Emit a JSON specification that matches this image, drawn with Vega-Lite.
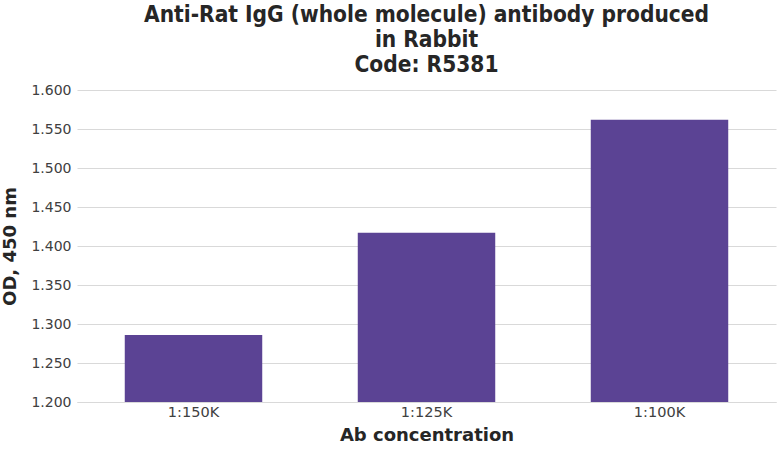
{
  "$schema": "https://vega.github.io/schema/vega-lite/v6.json",
  "autosize": "none",
  "width": 699,
  "height": 312,
  "padding": {"left": 77, "top": 90, "right": 2, "bottom": 48},
  "background": "white",
  "title": {
    "text": ["Anti-Rat IgG (whole molecule) antibody produced", "in Rabbit", "Code: R5381"],
    "font": "DejaVu Sans Condensed",
    "fontSize": 22.5,
    "fontWeight": "bold",
    "color": "#262626",
    "lineHeight": 25,
    "offset": 7,
    "anchor": "middle"
  },
  "data": {
    "values": [
      {"dilution": "1:150K", "od": 1.286},
      {"dilution": "1:125K", "od": 1.417},
      {"dilution": "1:100K", "od": 1.562}
    ]
  },
  "mark": {"type": "bar", "color": "#5b4394", "clip": true},
  "encoding": {
    "x": {
      "field": "dilution",
      "type": "nominal",
      "sort": null,
      "title": "Ab concentration",
      "scale": {"paddingInner": 0.41, "paddingOuter": 0.205},
      "axis": {
        "labelAngle": 0,
        "labelFont": "DejaVu Sans",
        "labelFontSize": 14.5,
        "labelColor": "#404040",
        "labelPadding": 3,
        "ticks": false,
        "domainColor": "#d9d9d9",
        "titleFont": "DejaVu Sans",
        "titleFontSize": 18,
        "titleFontWeight": "bold",
        "titleColor": "#262626",
        "titlePadding": 8
      }
    },
    "y": {
      "field": "od",
      "type": "quantitative",
      "title": "OD, 450 nm",
      "scale": {"domain": [1.2, 1.6], "zero": false, "nice": false},
      "axis": {
        "values": [1.2, 1.25, 1.3, 1.35, 1.4, 1.45, 1.5, 1.55, 1.6],
        "format": ".3f",
        "labelFont": "DejaVu Sans",
        "labelFontSize": 14,
        "labelColor": "#404040",
        "labelPadding": 6,
        "ticks": false,
        "domain": false,
        "gridColor": "#d9d9d9",
        "titleFont": "DejaVu Sans",
        "titleFontSize": 18,
        "titleFontWeight": "bold",
        "titleColor": "#262626",
        "titlePadding": 11
      }
    }
  },
  "config": {"view": {"stroke": null}}
}
